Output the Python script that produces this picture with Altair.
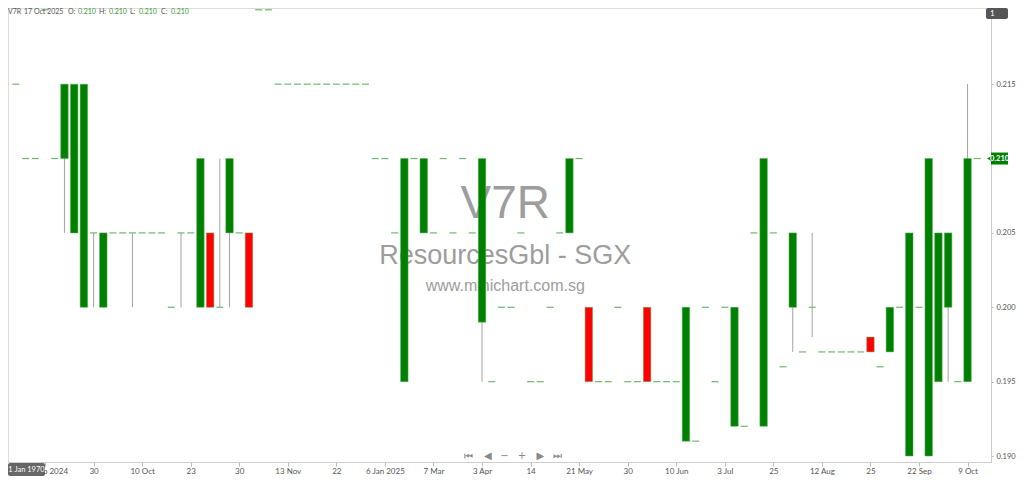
import json
import altair as alt
import pandas as pd

# ---- data (one entry per bar, left to right) ----
opens = [
    .215, .210, .210, .220, .210, .210, .205, .200, .205, .200,
    .205, .205, .205, .205, .205, .205, .200, .205, .205, .200,
    .205, .200, .205, .205, .205, .220, .220, .215, .215, .215,
    .215, .215, .215, .215, .215, .215, .215, .210, .210, .205,
    .195, .210, .205, .205, .210, .205, .210, .205, .199, .195,
    .200, .200, .205, .195, .195, .200, .205, .205, .210, .200,
    .195, .195, .200, .195, .195, .200, .195, .195, .195, .191,
    .191, .200, .195, .200, .192, .192, .205, .192, .205, .196,
    .200, .197, .200, .197, .197, .197, .197, .197, .198, .196,
    .197, .200, .190, .200, .190, .195, .200, .195, .195, .210,
]
highs = [
    .215, .210, .210, .220, .210, .215, .215, .215, .205, .205,
    .205, .205, .205, .205, .205, .205, .200, .205, .205, .210,
    .205, .210, .210, .205, .205, .220, .220, .215, .215, .215,
    .215, .215, .215, .215, .215, .215, .215, .210, .210, .205,
    .210, .210, .210, .205, .210, .205, .210, .205, .210, .195,
    .200, .200, .205, .195, .195, .200, .205, .210, .210, .200,
    .195, .195, .200, .195, .195, .200, .195, .195, .195, .200,
    .191, .200, .195, .200, .200, .192, .205, .210, .205, .196,
    .205, .197, .205, .197, .197, .197, .197, .197, .198, .196,
    .200, .200, .205, .200, .210, .205, .205, .195, .215, .210,
]
lows = [
    .215, .210, .210, .220, .210, .205, .205, .200, .200, .200,
    .205, .205, .200, .205, .205, .205, .200, .200, .205, .200,
    .200, .200, .200, .205, .200, .220, .220, .215, .215, .215,
    .215, .215, .215, .215, .215, .215, .215, .210, .210, .205,
    .195, .210, .205, .205, .210, .205, .210, .205, .195, .195,
    .200, .200, .205, .195, .195, .200, .205, .205, .210, .195,
    .195, .195, .200, .195, .195, .195, .195, .195, .195, .191,
    .191, .200, .195, .200, .192, .192, .205, .192, .205, .196,
    .197, .197, .198, .197, .197, .197, .197, .197, .197, .196,
    .197, .200, .190, .200, .190, .195, .195, .195, .195, .210,
]
closes = [
    .215, .210, .210, .220, .210, .215, .215, .215, .205, .205,
    .205, .205, .205, .205, .205, .205, .200, .205, .205, .210,
    .200, .200, .210, .205, .200, .220, .220, .215, .215, .215,
    .215, .215, .215, .215, .215, .215, .215, .210, .210, .205,
    .210, .210, .210, .205, .210, .205, .210, .205, .210, .195,
    .200, .200, .205, .195, .195, .200, .205, .210, .210, .195,
    .195, .195, .200, .195, .195, .195, .195, .195, .195, .200,
    .191, .200, .195, .200, .200, .192, .205, .210, .205, .196,
    .205, .197, .200, .197, .197, .197, .197, .197, .197, .196,
    .200, .200, .205, .200, .210, .205, .205, .195, .210, .210,
]
tick_labels = ["19 Sep 2024", "30", "10 Oct", "23", "30", "13 Nov", "22",
               "6 Jan 2025", "7 Mar", "3 Apr", "14", "21 May", "30", "10 Jun",
               "3 Jul", "25", "12 Aug", "25", "22 Sep", "9 Oct"]
price_ticks = [0.190, 0.195, 0.200, 0.205, 0.215]  # 0.210 is shown by the last-price tag
last_price = 0.210

n = len(opens)
df = pd.DataFrame({"i": list(range(n)), "open": opens, "high": highs,
                   "low": lows, "close": closes})
df["col"] = ["#008000" if c >= o else "#ff0000" for o, c in zip(opens, closes)]
flat = df["open"].round(4) == df["close"].round(4)
bodies = df[~flat]
dashes = df[flat]
wicks = df[df["high"].round(4) > df["low"].round(4)]

tick_pos = [3 + 5 * k for k in range(len(tick_labels))]

XMIN, XMAX = -0.3, 99.9
YMIN, YMAX = 0.1896, 0.22012
xs = alt.Scale(domain=[XMIN, XMAX], nice=False, zero=False)
ys = alt.Scale(domain=[YMIN, YMAX], nice=False, zero=False)

FONT = "Lato"
x_axis = alt.Axis(values=tick_pos, labelExpr=json.dumps(tick_labels) + "[round((datum.value-3)/5)]",
                  title=None, grid=False, labelFontSize=8, labelColor="#555", labelFont=FONT,
                  tickColor="#bbb", domainColor="#ccc", tickSize=4, labelPadding=1,
                  labelOverlap=False, labelFlush=False)
y_axis = alt.Axis(orient="right", values=price_ticks, format=".3f", title=None, grid=False,
                  labelFontSize=7.5, labelColor="#555", labelFont=FONT, tickColor="#bbb",
                  domainColor="#ccc", tickSize=2, labelPadding=3)


def one(t):
    return pd.DataFrame({"t": [t]})


def XD(v):
    return alt.XDatum(v, scale=xs, axis=x_axis)


def YD(v):
    return alt.YDatum(v, scale=ys, axis=y_axis)


layers = []

# watermark
for txt, yv, fs in [("V7R", 0.20697, 46), ("ResourcesGbl - SGX", 0.20347, 27),
                    ("www.minichart.com.sg", 0.20142, 16)]:
    layers.append(alt.Chart(one(txt)).mark_text(font="Liberation Sans", fontSize=fs, color="#9d9d9d",
                                               baseline="middle", align="center").encode(
        x=XD(50.4), y=YD(yv), text="t:N"))

# wicks
layers.append(alt.Chart(wicks).mark_rule(color="#a3a3a3", strokeWidth=1).encode(
    x=alt.X("i:Q", scale=xs, axis=x_axis),
    y=alt.Y("low:Q", scale=ys, axis=y_axis),
    y2="high:Q"))

# bodies
layers.append(alt.Chart(bodies).mark_bar(width=7.5, stroke="#5faf5f", strokeWidth=0.5).encode(
    x=alt.X("i:Q", scale=xs, axis=x_axis),
    y=alt.Y("open:Q", scale=ys, axis=y_axis),
    y2="close:Q",
    fill=alt.Fill("col:N", scale=None)))

# flat-day dashes
layers.append(alt.Chart(dashes).mark_tick(orient="horizontal", size=7, thickness=1.2,
                                         color="#6cb86c", opacity=1).encode(
    x=alt.X("i:Q", scale=xs, axis=x_axis),
    y=alt.Y("close:Q", scale=ys, axis=y_axis)))

# header text
header = [("V7R", 0, "#555"), ("17 Oct 2025", 16, "#555"), ("O:", 60, "#555"),
          ("0.210", 70, "#3a9a3a"), ("H:", 91, "#555"), ("0.210", 101, "#3a9a3a"),
          ("L:", 122, "#555"), ("0.210", 131, "#3a9a3a"), ("C:", 153, "#555"),
          ("0.210", 163, "#3a9a3a")]
for txt, px, c in header:
    layers.append(alt.Chart(one(txt)).mark_text(font=FONT, fontSize=7, color=c, align="left",
                                               baseline="middle").encode(
        x=alt.value(px), y=alt.value(4), text="t:N"))

# navigation glyphs
nav = [("⏮", 46.6), ("◀", 48.6), ("−", 50.3), ("+", 52.1), ("▶", 54.0), ("⏭", 55.8)]
for g, pos in nav:
    layers.append(alt.Chart(one(g)).mark_text(font="DejaVu Sans", fontSize=10, color="#888",
                                             baseline="middle", dy=-6).encode(
        x=XD(pos), y=YD(YMIN), text="t:N"))

# bottom-left date box
layers.append(alt.Chart(one("box")).mark_rect(color="#666", cornerRadius=2, yOffset=1, y2Offset=14).encode(
    x=alt.value(0), x2=alt.value(37),
    y=YD(YMIN), y2=alt.Y2Datum(YMIN)))
layers.append(alt.Chart(one("1 Jan 1970")).mark_text(font=FONT, fontSize=7.5, color="white",
                                                    baseline="middle", dy=8).encode(
    x=alt.value(18.5), y=YD(YMIN), text="t:N"))

# top-right box
layers.append(alt.Chart(one("box")).mark_rect(color="#555", cornerRadius=2, xOffset=0, x2Offset=22).encode(
    x=XD(XMAX), x2=alt.X2Datum(XMAX),
    y=alt.value(0), y2=alt.value(11)))
layers.append(alt.Chart(one("1")).mark_text(font=FONT, fontSize=8, color="white", align="left",
                                           baseline="middle", dx=4).encode(
    x=XD(XMAX), y=alt.value(5.5), text="t:N"))

# last price tag
layers.append(alt.Chart(one("tag")).mark_rect(color="#008000", xOffset=5, x2Offset=22,
                                             yOffset=-6, y2Offset=6).encode(
    x=XD(XMAX), x2=alt.X2Datum(XMAX),
    y=YD(last_price), y2=alt.Y2Datum(last_price)))
layers.append(alt.Chart(one("tri")).mark_point(shape="triangle-left", filled=True, size=45,
                                              color="#008000", opacity=1, xOffset=4).encode(
    x=XD(XMAX), y=YD(last_price)))
layers.append(alt.Chart(one(f"{last_price:.3f}")).mark_text(font=FONT, fontSize=7.5, color="white",
                                                            fontWeight="bold", baseline="middle",
                                                            align="center", dx=13.5).encode(
    x=XD(XMAX), y=YD(last_price), text="t:N"))

chart = alt.layer(*layers).properties(
    width=1008, height=468, padding=0,
    autosize=alt.AutoSizeParams(type="fit", contains="padding"),
).configure_view(stroke="#bbb", strokeDash=[2, 2]).configure(background="white")

chart.save("out.html", embed_options={"renderer": "svg", "actions": False})
